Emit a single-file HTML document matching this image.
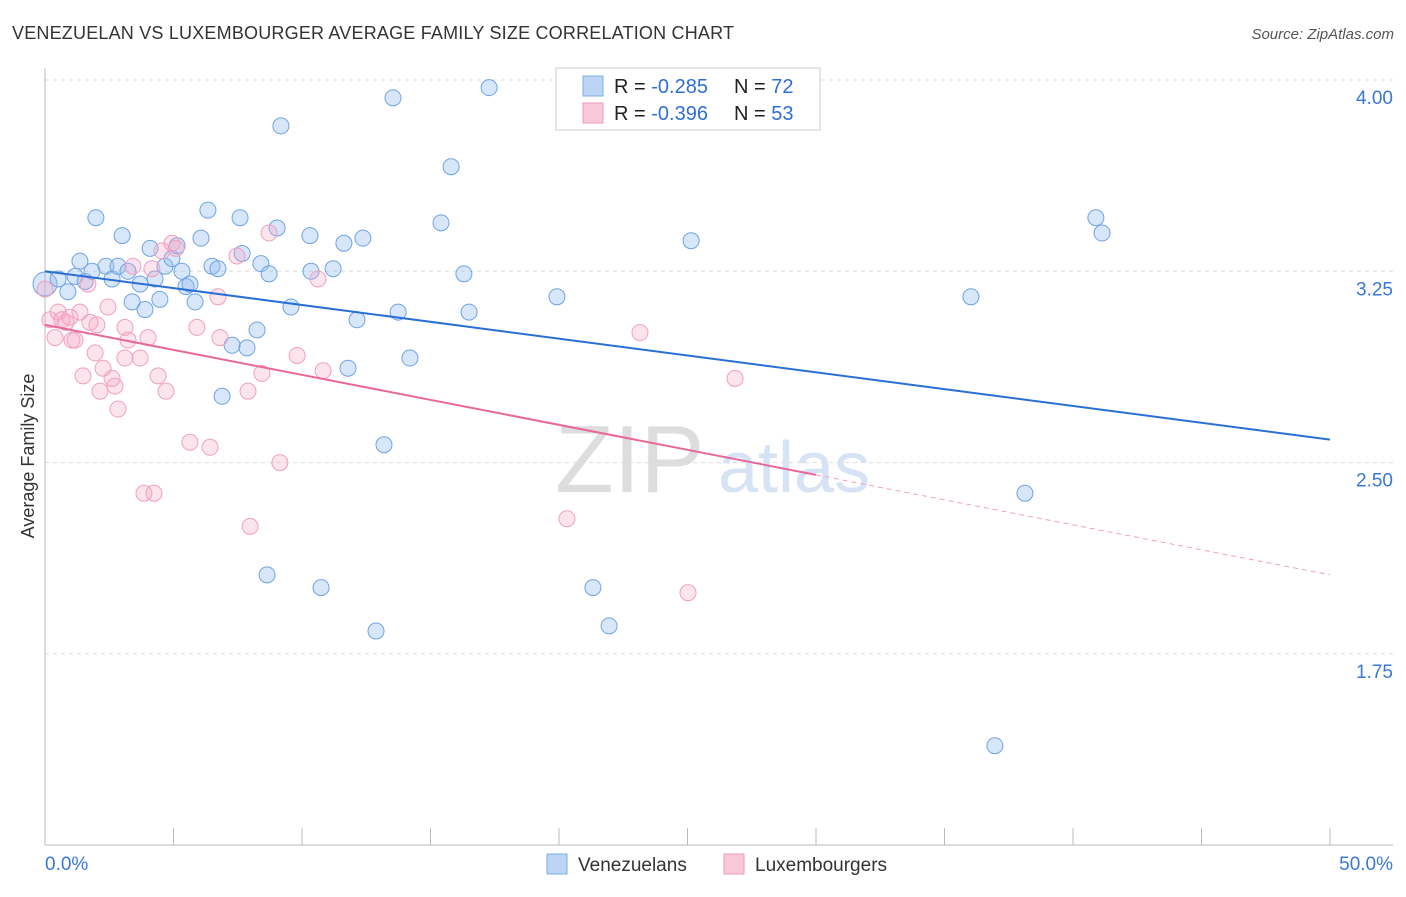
<!DOCTYPE html>
<html><head><meta charset="utf-8"><style>
body{margin:0;background:#fff;font-family:"Liberation Sans",sans-serif;}
svg text{font-family:"Liberation Sans",sans-serif;}
</style></head><body>
<svg id="chart" width="1406" height="892" xmlns="http://www.w3.org/2000/svg">
<text x="12" y="39" font-size="18" fill="#333" textLength="722">VENEZUELAN VS LUXEMBOURGER AVERAGE FAMILY SIZE CORRELATION CHART</text>
<text x="1394" y="39" font-size="15" fill="#555" text-anchor="end" font-style="italic">Source: ZipAtlas.com</text>
<text x="34" y="456" font-size="18" fill="#333" text-anchor="middle" transform="rotate(-90 34 456)">Average Family Size</text>
<g><text x="555" y="492" font-size="96" fill="#ddd" font-family="Liberation Serif,serif">ZIP</text><text x="718" y="492" font-size="72" fill="#d5e3f5">atlas</text></g>
<g id="grid"></g><g id="axes"></g><g id="pts"></g><g id="trend"></g>
<g>
<rect x="556" y="68" width="264" height="62" fill="#fff" stroke="#ccc"/>
<rect x="583" y="76" width="20" height="20" fill="#bcd5f5" stroke="#7aaee8"/>
<rect x="583" y="103" width="20" height="20" fill="#f9c8d8" stroke="#f09ab6"/>
<text x="614" y="93" font-size="20" fill="#222">R = <tspan fill="#2f6fd6">-0.285</tspan><tspan x="734">N = </tspan><tspan fill="#2f6fd6">72</tspan></text>
<text x="614" y="120" font-size="20" fill="#222">R = <tspan fill="#2f6fd6">-0.396</tspan><tspan x="734">N = </tspan><tspan fill="#2f6fd6">53</tspan></text>
</g>
<g>
<rect x="547" y="854" width="20" height="20" fill="#bcd5f5" stroke="#7aaee8"/>
<text x="578" y="871" font-size="19" fill="#333">Venezuelans</text>
<rect x="724" y="854" width="20" height="20" fill="#f9c8d8" stroke="#f09ab6"/>
<text x="755" y="871" font-size="19" fill="#333">Luxembourgers</text>
</g>
</svg>
<script>
const yTicks=[4.00,3.25,2.50,1.75];
const yTickLabels=["4.00","3.25","2.50","1.75"];
const xTicks=[0,5,10,15,20,25,30,35,40,45,50];
const venX=[0,0.51,0.89,1.17,1.36,1.56,1.83,1.98,2.37,2.61,2.84,3.00,3.23,3.39,3.70,3.89,4.09,4.28,4.47,4.67,4.94,5.14,5.33,5.49,5.64,5.84,6.07,6.34,6.50,6.73,6.89,7.28,7.59,7.67,7.86,8.25,8.40,8.64,8.72,9.03,9.18,9.57,10.31,10.35,10.74,11.21,11.63,11.79,12.14,12.37,12.88,13.19,13.54,13.74,14.20,15.41,15.80,16.30,16.50,17.28,19.92,21.32,21.95,25.14,36.03,36.96,38.13,40.89,41.13];
const venY=[3.20,3.22,3.17,3.23,3.29,3.21,3.25,3.46,3.27,3.22,3.27,3.39,3.25,3.13,3.20,3.10,3.34,3.22,3.14,3.27,3.30,3.35,3.25,3.19,3.20,3.13,3.38,3.49,3.27,3.26,2.76,2.96,3.46,3.32,2.95,3.02,3.28,2.06,3.24,3.42,3.82,3.11,3.39,3.25,2.01,3.26,3.36,2.87,3.06,3.38,1.84,2.57,3.93,3.09,2.91,3.44,3.66,3.24,3.09,3.97,3.15,2.01,1.86,3.37,3.15,1.39,2.38,3.46,3.40];
const luxX=[0.19,0.39,0.51,0.66,0.82,0.97,1.05,1.17,1.36,1.48,1.67,1.75,1.95,2.02,2.14,2.26,2.45,2.61,2.72,2.84,3.11,3.23,3.11,3.42,3.70,3.85,4.01,4.16,4.24,4.40,4.55,4.71,4.94,5.10,5.64,5.91,6.42,6.73,6.81,7.47,7.90,7.98,8.44,8.72,9.14,9.81,10.62,10.82,20.31,23.15,25.02,26.85,0.0];
const luxY=[3.06,2.99,3.09,3.06,3.05,3.07,2.98,2.98,3.09,2.84,3.20,3.05,2.93,3.04,2.78,2.87,3.11,2.83,2.80,2.71,3.03,2.98,2.91,3.27,2.91,2.38,2.99,3.26,2.38,2.84,3.33,2.78,3.36,3.34,2.58,3.03,2.56,3.15,2.99,3.31,2.78,2.25,2.85,3.40,2.50,2.92,3.22,2.86,2.28,3.01,1.99,2.83,3.18];
const venTrend=[3.25,2.59];
const luxTrend=[3.04,2.06];
const luxSolidEnd=30;
const X=v=>45+v*25.7, Y=v=>80+(4-v)/0.75*191.3;
const NS="http://www.w3.org/2000/svg";
function mk(p,t,a){const e=document.createElementNS(NS,t);for(const k in a)e.setAttribute(k,a[k]);p.appendChild(e);return e;}
const grid=document.getElementById('grid'),axes=document.getElementById('axes'),pts=document.getElementById('pts'),tr=document.getElementById('trend');
yTicks.forEach((t,i)=>{
 const l=mk(grid,'line',{x1:45,x2:1393,y1:Y(t),y2:Y(t),stroke:'#ddd','stroke-dasharray':'4,4'});
 
 
 const tx=mk(axes,'text',{x:1393,y:Y(t)+24,'font-size':19,fill:'#3a78d6','text-anchor':'end'});
 tx.textContent=yTickLabels[i];
 
 
});
mk(axes,'line',{x1:45,x2:45,y1:68,y2:845,stroke:'#bbb'});
mk(axes,'line',{x1:45,x2:1393,y1:845,y2:845,stroke:'#bbb'});
xTicks.forEach(t=>{const l=mk(axes,'line',{x1:X(t),x2:X(t),y1:828,y2:845,stroke:'#bbb'});
 
 });
const a=mk(axes,'text',{x:45,y:870,'font-size':19,fill:'#3a78d6'});a.textContent='0.0%';


const b=mk(axes,'text',{x:1393,y:870,'font-size':19,fill:'#3a78d6','text-anchor':'end'});b.textContent='50.0%';


venX.forEach((x,i)=>{const c=mk(pts,'circle',{cx:X(x),cy:Y(venY[i]),r:i==0?12:8,fill:'rgba(140,185,238,0.35)',stroke:'#6fa3e3','stroke-width':1});
 
 });
luxX.forEach((x,i)=>{const c=mk(pts,'circle',{cx:X(x),cy:Y(luxY[i]),r:8,fill:'rgba(245,165,195,0.3)',stroke:'#f0a0bd','stroke-width':1});
 
 });
const vl=mk(tr,'line',{x1:X(0),y1:Y(venTrend[0]),x2:X(50),y2:Y(venTrend[1]),stroke:'#2a6fd6','stroke-width':2});


const ym=luxTrend[0]+(luxTrend[1]-luxTrend[0])*luxSolidEnd/50;
const ls=mk(tr,'line',{x1:X(0),y1:Y(luxTrend[0]),x2:X(luxSolidEnd),y2:Y(ym),stroke:'#e8689a','stroke-width':2});


const ld=mk(tr,'line',{x1:X(luxSolidEnd),y1:Y(ym),x2:X(50),y2:Y(luxTrend[1]),stroke:'#f0a0bd','stroke-width':1,'stroke-dasharray':'5,4'});


</script>
</body></html>
